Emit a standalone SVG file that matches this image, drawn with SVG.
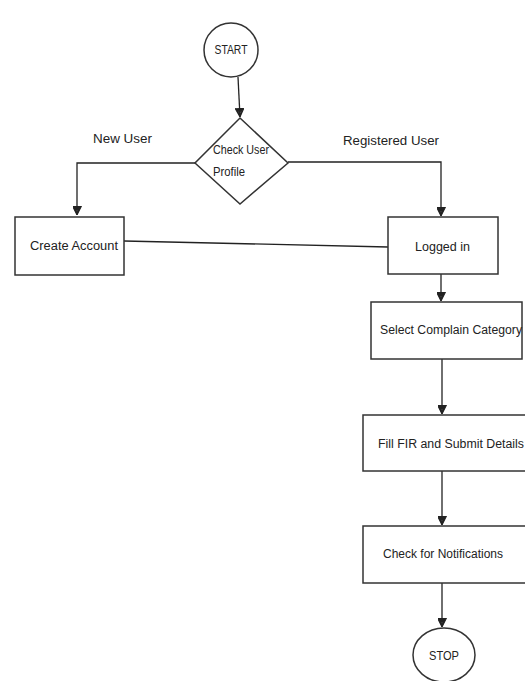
<svg xmlns="http://www.w3.org/2000/svg" width="525" height="681" viewBox="0 0 525 681">
<style>
.s{fill:#fff;stroke:#333;stroke-width:1.5}
.c{fill:none;stroke:#222;stroke-width:1.3}
.t{font-family:"Liberation Sans",Arial,sans-serif;font-size:12.5px;fill:#222}
</style>
<defs>
<marker id="a" viewBox="0 0 10 10" refX="10" refY="5" markerWidth="9" markerHeight="9" markerUnits="userSpaceOnUse" orient="auto">
<path d="M0,0 L10,5 L0,10 M0,5 L10,5 L4,3 L4,7 L10,5" fill="#222" stroke="#222" stroke-width="1.2"/>
</marker>
</defs>
<rect width="525" height="681" fill="#fff"/>
<g id="connectors">
<line class="c" x1="238" y1="77" x2="240" y2="117" marker-end="url(#a)"/>
<polyline class="c" points="195,163 77,163 77,215" marker-end="url(#a)"/>
<polyline class="c" points="288,162 441,162 441,216" marker-end="url(#a)"/>
<line class="c" x1="124" y1="241" x2="388" y2="247"/>
<line class="c" x1="441" y1="274" x2="441" y2="301" marker-end="url(#a)"/>
<line class="c" x1="442" y1="359" x2="442" y2="414" marker-end="url(#a)"/>
<line class="c" x1="442" y1="471" x2="442" y2="525" marker-end="url(#a)"/>
<line class="c" x1="442" y1="583" x2="442" y2="627" marker-end="url(#a)"/>
<text class="t" x="93" y="143" textLength="59" lengthAdjust="spacingAndGlyphs">New User</text>
<text class="t" x="343" y="145" textLength="96" lengthAdjust="spacingAndGlyphs">Registered User</text>
</g>
<g id="start">
<circle class="s" cx="231" cy="50" r="27"/>
<text class="t" x="231" y="54" text-anchor="middle" textLength="33" lengthAdjust="spacingAndGlyphs">START</text>
</g>
<g id="check">
<polygon class="s" points="240,118 288,163 240,204 195,163"/>
<text class="t" x="213" y="154" textLength="56" lengthAdjust="spacingAndGlyphs">Check User</text>
<text class="t" x="213" y="176" textLength="32" lengthAdjust="spacingAndGlyphs">Profile</text>
</g>
<g id="create">
<rect class="s" x="15" y="217" width="109" height="58"/>
<text class="t" x="30" y="250" textLength="88" lengthAdjust="spacingAndGlyphs">Create Account</text>
</g>
<g id="logged">
<rect class="s" x="388" y="217" width="110" height="57"/>
<text class="t" x="415" y="251" textLength="55" lengthAdjust="spacingAndGlyphs">Logged in</text>
</g>
<g id="select">
<rect class="s" x="371" y="302" width="151" height="57"/>
<text class="t" x="380" y="334" textLength="142" lengthAdjust="spacingAndGlyphs">Select Complain Category</text>
</g>
<g id="fill">
<rect class="s" x="363" y="415" width="170" height="56"/>
<text class="t" x="378" y="448" textLength="146" lengthAdjust="spacingAndGlyphs">Fill FIR and Submit Details</text>
</g>
<g id="notify">
<rect class="s" x="363" y="526" width="170" height="57"/>
<text class="t" x="383" y="558" textLength="120" lengthAdjust="spacingAndGlyphs">Check for Notifications</text>
</g>
<g id="stop">
<ellipse class="s" cx="444" cy="655" rx="31" ry="27"/>
<text class="t" x="444" y="660" text-anchor="middle" textLength="30" lengthAdjust="spacingAndGlyphs">STOP</text>
</g>
</svg>
